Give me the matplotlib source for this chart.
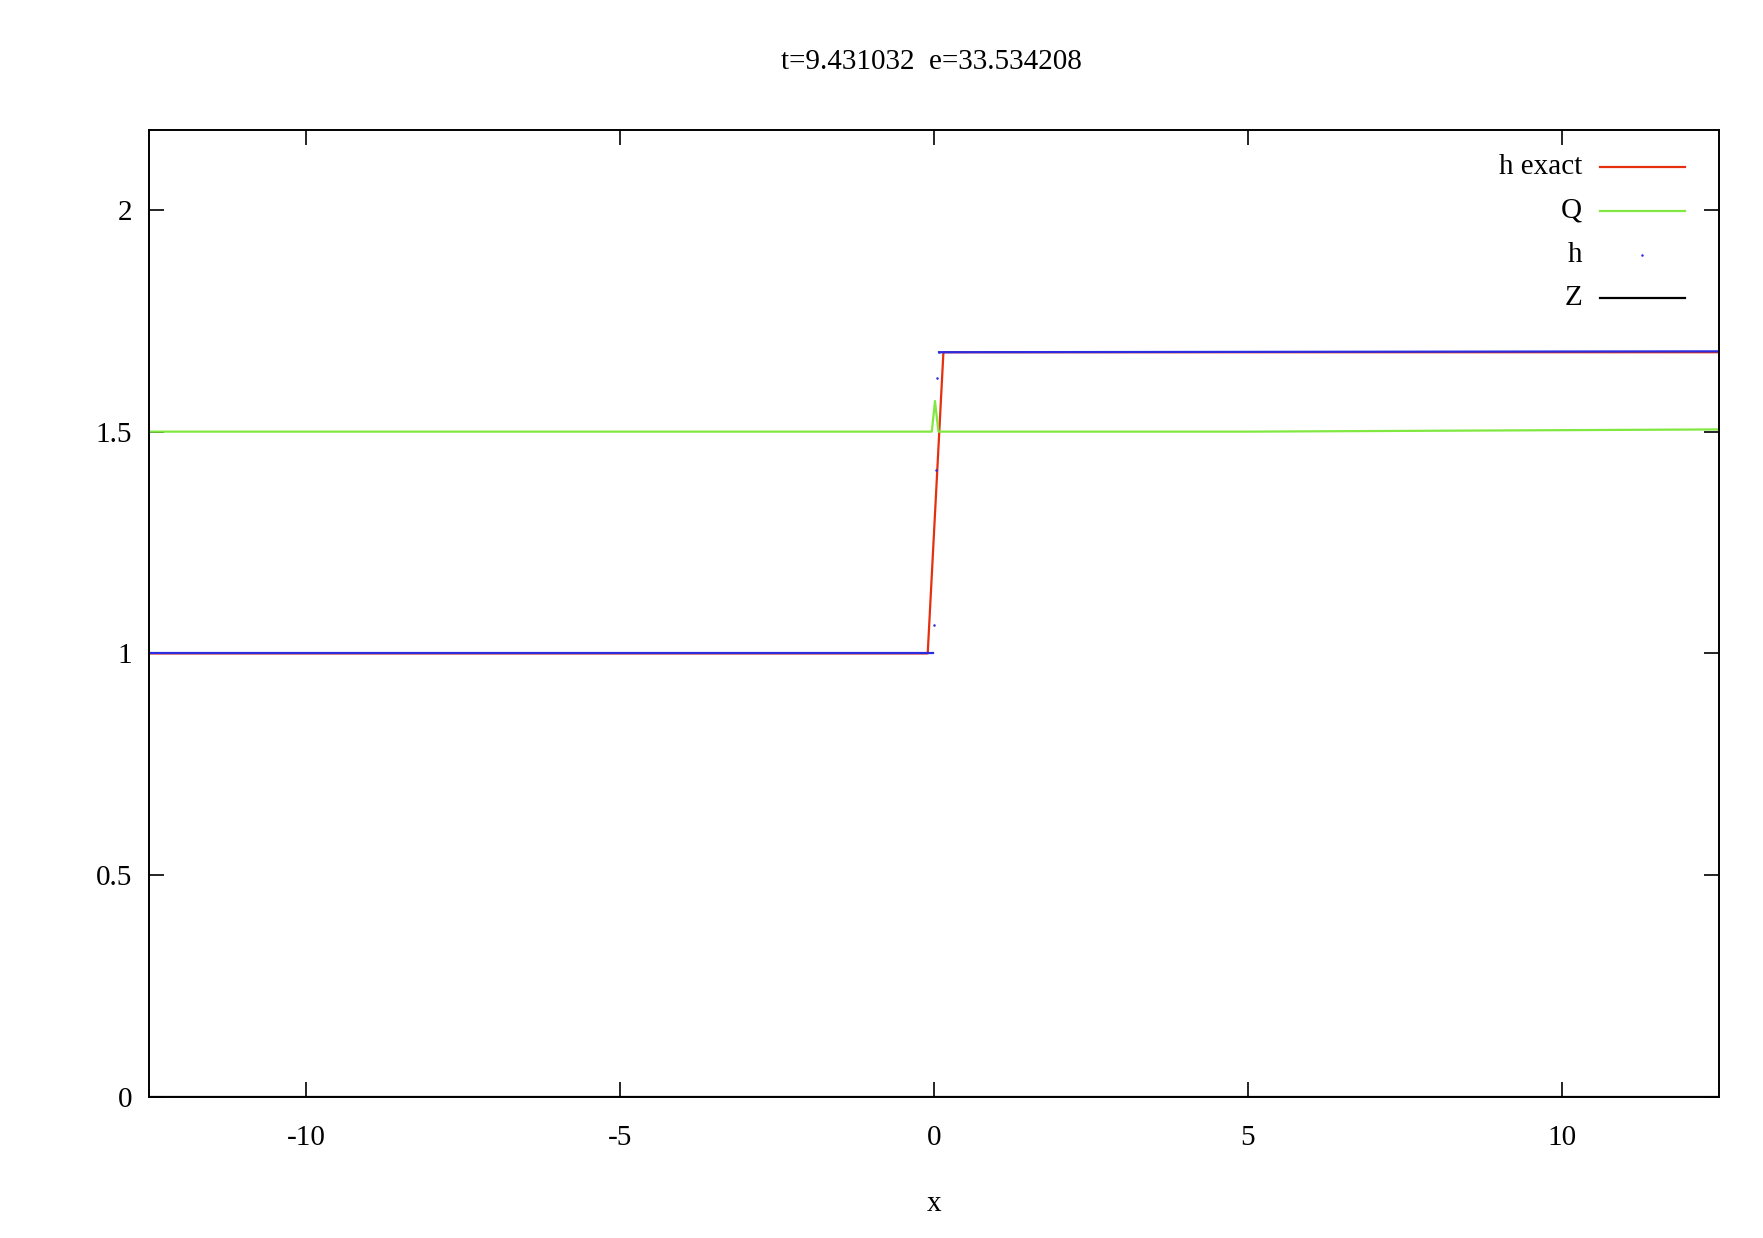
import matplotlib
matplotlib.use("Agg")
import matplotlib.pyplot as plt
from matplotlib.lines import Line2D

# values
x_exact = [-12.5, -0.10, 0.15, 12.5]
h_exact = [1.0, 1.0, 1.679, 1.679]

x_q = [-12.5, -0.035, 0.016, 0.07, 5.0, 12.5]
q = [1.5, 1.5, 1.569, 1.5, 1.5, 1.505]

x_h_left = [-12.5, -0.02]
h_left = [1.0, 1.0]
x_h_jump = [0.0, 0.03, 0.05, 0.075]
h_jump = [1.064, 1.413, 1.622, 1.68]
x_h_right = [0.08, 12.5]
h_right = [1.679, 1.681]

x_z = [-12.5, 12.5]
z = [0.0, 0.0]

xticks = [-10, -5, 0, 5, 10]
yticks = [0, 0.5, 1, 1.5, 2]

red = '#e4300f'
green = '#80e840'
blue = '#2b2be0'

plt.rcParams['font.family'] = ['Liberation Serif', 'DejaVu Serif']
fs = 21

fig = plt.figure(figsize=(17.63, 12.38), dpi=100)
ax = fig.add_axes([149 / 1763, 1 - 1097 / 1238, 1570 / 1763, 967 / 1238])

ax.plot(x_exact, h_exact, color=red, lw=1.6)
ax.plot(x_q, q, color=green, lw=1.6)
ax.plot(x_h_left, h_left, color=blue, lw=1.6)
ax.plot(x_h_right, h_right, color=blue, lw=1.6)
ax.plot(x_h_jump, h_jump, ls='none', marker='o', ms=1.8, color=blue, mew=0)
ax.plot(x_z, z, color='black', lw=1.6)

ax.set_xlim(-12.5, 12.5)
ax.set_ylim(0, 2.18)
ax.set_xticks(xticks)
ax.set_xticklabels(['-10', '-5', '0', '5', '10'])
ax.set_yticks(yticks)
ax.set_yticklabels(['0', '0.5', '1', '1.5', '2'])
ax.tick_params(direction='in', length=10.5, width=1.2, top=True, right=True,
               labelsize=fs)
ax.tick_params(axis='x', pad=20)
ax.tick_params(axis='y', pad=12)
for s in ax.spines.values():
    s.set_linewidth(1.4)

# legend, gnuplot style (right aligned labels)
labels = ['h exact', 'Q', 'h', 'Z']
rows = [166.7, 210.7, 254.7, 298.0]
for lab, yy in zip(labels, rows):
    fy = 1 - yy / 1238
    fig.text(1582 / 1763, fy, lab, ha='right', va='center', fontsize=fs)
styles = [dict(color=red), dict(color=green), None, dict(color='black')]
for st, yy in zip(styles, rows):
    fy = 1 - yy / 1238
    if st is None:
        fig.add_artist(Line2D([1642 / 1763], [fy], ls='none', marker='o',
                              ms=1.8, mew=0, color=blue))
    else:
        fig.add_artist(Line2D([1600 / 1763, 1685 / 1763], [fy, fy], lw=1.6,
                              **st))

fig.text(931 / 1763, 1 - 62 / 1238, 't=9.431032  e=33.534208',
         ha='center', va='center', fontsize=fs)
fig.text(934 / 1763, 1 - 1204 / 1238, 'x', ha='center', va='center',
         fontsize=fs)

fig.savefig('out.png', dpi=100)
